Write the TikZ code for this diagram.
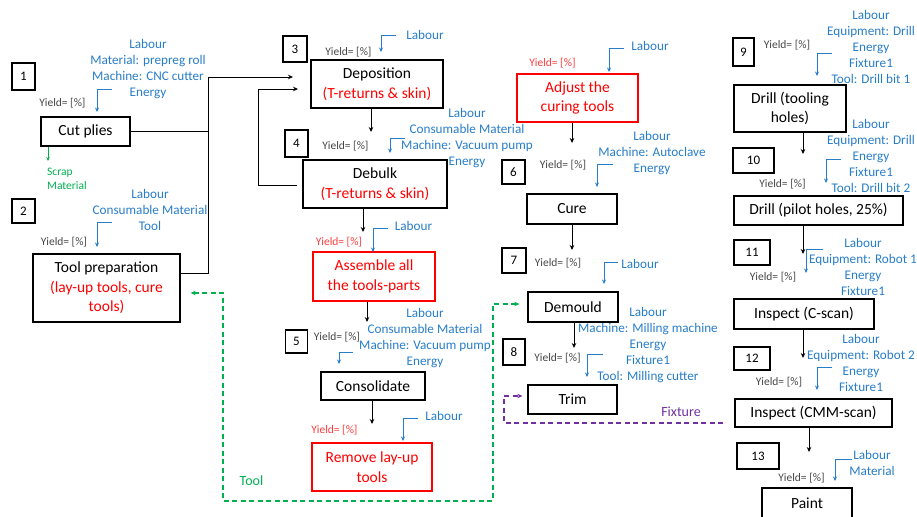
\documentclass[tikz,border=0pt]{standalone}
\usepackage{fontspec}
\setmainfont{Carlito}
\usetikzlibrary{arrows.meta}
\definecolor{lblue}{RGB}{40,125,200}
\definecolor{ygray}{RGB}{70,70,70}
\definecolor{ryield}{RGB}{255,60,60}
\definecolor{sgreen}{RGB}{0,176,80}
\definecolor{fpurple}{RGB}{112,48,160}
\begin{document}
\begin{tikzpicture}[x=1pt,y=-1pt,
 box/.style={draw,line width=1.3pt,inner sep=0pt,align=center,font=\fontsize{15.5}{19.5}\selectfont},
 rbox/.style={box,draw=red,text=red},
 numbox/.style={draw,line width=1.1pt,inner sep=0pt,font=\fontsize{13}{15}\selectfont},
 res/.style={text=lblue,align=center,inner sep=0pt,font=\fontsize{13.2}{16}\selectfont},
 yld/.style={text=ygray,inner sep=0pt,font=\fontsize{11.5}{13}\selectfont},
 ryld/.style={yld,text=ryield},
 flow/.style={-{Stealth[length=5pt,width=4.5pt]},line width=0.9pt},
 link/.style={line width=0.9pt},
 rflow/.style={-{Stealth[length=4.5pt,width=4pt]},draw=lblue,line width=0.9pt},
 tooldash/.style={draw=sgreen,line width=1.2pt,dash pattern=on 5pt off 3.5pt},
 fixdash/.style={draw=fpurple,line width=1.2pt,dash pattern=on 5pt off 3.5pt},
]
\useasboundingbox (0,0) rectangle (917,516);

% ---------- number boxes ----------
\node[numbox,minimum width=23pt,minimum height=27pt] (n1) at (23.5,76.5) {1};
\node[numbox,minimum width=23pt,minimum height=24pt] (n2) at (23.5,211) {2};
\node[numbox,minimum width=24pt,minimum height=26pt] (n3) at (295,49) {3};
\node[numbox,minimum width=23pt,minimum height=27pt] (n4) at (296.5,143.5) {4};
\node[numbox,minimum width=22pt,minimum height=23pt] (n5) at (296.5,341.5) {5};
\node[numbox,minimum width=23pt,minimum height=24pt] (n6) at (513.5,172) {6};
\node[numbox,minimum width=24pt,minimum height=25pt] (n7) at (514,260.5) {7};
\node[numbox,minimum width=22pt,minimum height=26pt] (n8) at (514,352) {8};
\node[numbox,minimum width=21pt,minimum height=28pt] (n9) at (743.5,52) {9};
\node[numbox,minimum width=41pt,minimum height=25pt] (n10) at (753.5,160.5) {10};
\node[numbox,minimum width=36pt,minimum height=25pt] (n11) at (752,252.5) {11};
\node[numbox,minimum width=36pt,minimum height=23pt] (n12) at (752,358.5) {12};
\node[numbox,minimum width=42pt,minimum height=26pt] (n13) at (758,456) {13};

% ---------- process boxes ----------
\node[box,minimum width=89pt,minimum height=29pt] (cut) at (85.5,131.5) {Cut plies};
\node[box,minimum width=147pt,minimum height=68pt] (tool) at (106.5,288) {Tool preparation\\\textcolor{red}{(lay-up tools, cure}\\\textcolor{red}{tools)}};
\node[box,minimum width=132pt,minimum height=48pt] (dep) at (377,84) {Deposition\\\textcolor{red}{(T-returns \& skin)}};
\node[box,minimum width=144pt,minimum height=48pt] (deb) at (375,184) {Debulk\\\textcolor{red}{(T-returns \& skin)}};
\node[rbox,minimum width=122pt,minimum height=49pt] (asm) at (374,276.5) {Assemble all\\the tools-parts};
\node[box,minimum width=104pt,minimum height=28pt] (cons) at (373,386) {Consolidate};
\node[rbox,minimum width=120pt,minimum height=48pt] (rem) at (372,467) {Remove lay-up\\tools};
\node[rbox,minimum width=121pt,minimum height=48pt] (adj) at (577.5,98) {Adjust the\\curing tools};
\node[box,minimum width=90pt,minimum height=30pt] (cure) at (572,209) {Cure};
\node[box,minimum width=90pt,minimum height=30pt] (dem) at (573,307) {Demould};
\node[box,minimum width=89pt,minimum height=29pt] (trim) at (572.5,399.5) {Trim};
\node[box,minimum width=112pt,minimum height=47pt] (dr1) at (790,108.5) {Drill (tooling\\holes)};
\node[box,minimum width=169pt,minimum height=29pt] (dr2) at (818.5,210.5) {Drill (pilot holes, 25\%)};
\node[box,minimum width=140pt,minimum height=30pt] (in1) at (804,314) {Inspect (C-scan)};
\node[box,minimum width=157pt,minimum height=28pt] (in2) at (813.5,413) {Inspect (CMM-scan)};
\node[box,minimum width=90pt,minimum height=30pt] (paint) at (807,503) {Paint};

% ---------- resource labels ----------
\node[res] (r1) at (148,69) {Labour\\Material: prepreg roll\\Machine: CNC cutter\\Energy};
\node[res] (r2) at (150,210) {Labour\\Consumable Material\\Tool};
\node[res] (r3) at (425,35) {Labour};
\node[res] (r4) at (467,138) {Labour\\Consumable Material\\Machine: Vacuum pump\\Energy};
\node[res] (r5) at (413.5,226) {Labour};
\node[res] (r6) at (425,338.5) {Labour\\Consumable Material\\Machine: Vacuum pump\\Energy};
\node[res] (r7) at (444,416) {Labour};
\node[res] (r8) at (650,46) {Labour};
\node[res] (r9) at (652,153) {Labour\\Machine: Autoclave\\Energy};
\node[res] (r10) at (640,264) {Labour};
\node[res] (r11) at (648,345) {Labour\\Machine: Milling machine\\Energy\\Fixture1\\Tool: Milling cutter};
\node[res] (r12) at (871,46.5) {Labour\\Equipment: Drill\\Energy\\Fixture1\\Tool: Drill bit 1};
\node[res] (r13) at (871,156) {Labour\\Equipment: Drill\\Energy\\Fixture1\\Tool: Drill bit 2};
\node[res] (r14) at (863,267) {Labour\\Equipment: Robot 1\\Energy\\Fixture1};
\node[res] (r15) at (861,362.5) {Labour\\Equipment: Robot 2\\Energy\\Fixture1};
\node[res] (r16) at (872,463) {Labour\\Material};

% ---------- yields ----------
\node[yld] (y1) at (62.5,103) {Yield= [\%]};
\node[yld] (y2) at (64,242) {Yield= [\%]};
\node[yld] (y3) at (348.5,52) {Yield= [\%]};
\node[yld] (y4) at (345.5,146) {Yield= [\%]};
\node[ryld] (y5) at (339,242) {Yield= [\%]};
\node[yld] (y6) at (337,337) {Yield= [\%]};
\node[ryld] (y7) at (334.5,430) {Yield= [\%]};
\node[ryld] (y8) at (552.5,63) {Yield= [\%]};
\node[yld] (y9) at (563,165) {Yield= [\%]};
\node[yld] (y10) at (558,263) {Yield= [\%]};
\node[yld] (y11) at (557.5,358) {Yield= [\%]};
\node[yld] (y12) at (787,45) {Yield= [\%]};
\node[yld] (y13) at (782.5,184) {Yield= [\%]};
\node[yld] (y14) at (773,277) {Yield= [\%]};
\node[yld] (y15) at (779,382) {Yield= [\%]};
\node[yld] (y16) at (801.5,478) {Yield= [\%]};

% ---------- other labels ----------
\node[anchor=west,align=left,text=sgreen,inner sep=0pt,font=\fontsize{11.5}{14}\selectfont] (scrap) at (47,179) {Scrap\\Material};
\node[text=sgreen,inner sep=0pt,font=\fontsize{14}{16}\selectfont] (tlab) at (251.5,481) {Tool};
\node[text=fpurple,inner sep=0pt,font=\fontsize{14}{16}\selectfont] (flab) at (681,412) {Fixture};

% ---------- main flow connectors ----------
\coordinate (j1) at (208,77);
\coordinate (j2) at (208,273);
\coordinate (depin1) at (293,77);
\draw[link] (cut.east) -| (j1);
\draw[link] (tool.east |- j2) -- (j2) -- (j1);
\draw[flow] (j1) -- (depin1);
\coordinate (lp1) at (258,185);
\coordinate (lp2) at (258,89);
\coordinate (depin2) at (298,89);
\draw[flow,shorten <=5pt] (deb.west |- lp1) -- (lp1) -- (lp2) -- (depin2);

\coordinate (a1) at (371,132); \draw[flow] (dep.south -| a1) -- (a1);
\coordinate (a2) at (363,232); \draw[flow] (deb.south -| a2) -- (a2);
\coordinate (a3) at (367,322); \draw[flow] (asm.south -| a3) -- (a3);
\coordinate (a4) at (372,424); \draw[flow] (cons.south -| a4) -- (a4);
\coordinate (a5) at (572,143); \draw[flow] (adj.south -| a5) -- (a5);
\coordinate (a6) at (572,250); \draw[flow] (cure.south -| a6) -- (a6);
\coordinate (a7) at (574,348); \draw[flow] (dem.south -| a7) -- (a7);
\coordinate (a8) at (803,154); \draw[flow] (dr1.south -| a8) -- (a8);
\coordinate (a9) at (803,254); \draw[flow] (dr2.south -| a9) -- (a9);
\coordinate (a10) at (803,358); \draw[flow] (in1.south -| a10) -- (a10);
\coordinate (a11) at (809,452); \draw[flow] (in2.south -| a11) -- (a11);

% scrap arrow
\coordinate (sc) at (48,161);
\draw[-{Stealth[length=4pt,width=3.5pt]},draw=sgreen,line width=0.9pt] (cut.south -| sc) -- (sc);

% ---------- resource arrows ----------
\coordinate (b1s) at (112,89);   \coordinate (b1e) at (97,112);  \draw[rflow] (b1s) -| (b1e);
\coordinate (b2s) at (112,222);  \coordinate (b2e) at (97,247);  \draw[rflow] (b2s) -| (b2e);
\coordinate (b3s) at (396,35);   \coordinate (b3e) at (381,52);  \draw[rflow] (b3s) -| (b3e);
\coordinate (b4s) at (405,138);  \coordinate (b4e) at (390,153); \draw[rflow] (b4s) -| (b4e);
\coordinate (b5s) at (388,228);  \coordinate (b5e) at (373,252); \draw[rflow] (b5s) -| (b5e);
\coordinate (b6s) at (353,352);  \coordinate (b6e) at (339,364); \draw[rflow] (b6s) -| (b6e);
\coordinate (b7s) at (418,418);  \coordinate (b7e) at (403,441); \draw[rflow] (b7s) -| (b7e);
\coordinate (b8s) at (624,48);   \coordinate (b8e) at (609,72);  \draw[rflow] (b8s) -| (b8e);
\coordinate (b9s) at (613,164);  \coordinate (b9e) at (597,187); \draw[rflow] (b9s) -| (b9e);
\coordinate (b10s) at (618,262); \coordinate (b10e) at (604,284); \draw[rflow] (b10s) -| (b10e);
\coordinate (b11s) at (603,354); \coordinate (b11e) at (587,377); \draw[rflow] (b11s) -| (b11e);
\coordinate (b12s) at (832,53);  \coordinate (b12e) at (817,76);  \draw[rflow] (b12s) -| (b12e);
\coordinate (b13s) at (841,159); \coordinate (b13e) at (826,183); \draw[rflow] (b13s) -| (b13e);
\coordinate (b14s) at (823,249); \coordinate (b14e) at (806,273); \draw[rflow] (b14s) -| (b14e);
\coordinate (b15s) at (832,367); \coordinate (b15e) at (817,390); \draw[rflow] (b15s) -| (b15e);
\coordinate (b16s) at (852,459); \coordinate (b16e) at (835,481); \draw[rflow] (b16s) -| (b16e);

% ---------- tool loop (green dashed) ----------
\coordinate (g1) at (223,293);
\coordinate (g2) at (223,501);
\coordinate (g3) at (493,501);
\coordinate (g4) at (493,304);
\draw[tooldash,{Stealth[length=5pt,width=4.5pt]}-{Stealth[length=5pt,width=4.5pt]},shorten <=10pt,shorten >=8pt]
  (tool.east |- g1) -- (g1) -- (g2) -- (g3) -- (g4) -- (dem.west |- g4);

% ---------- fixture loop (purple dashed) ----------
\coordinate (p1) at (504,423);
\coordinate (p2) at (504,396);
\draw[fixdash,-{Stealth[length=5pt,width=4.5pt]},shorten <=11pt,shorten >=5pt]
  (in2.west |- p1) -- (p1) -- (p2) -- (trim.west |- p2);

\end{tikzpicture}
\end{document}
